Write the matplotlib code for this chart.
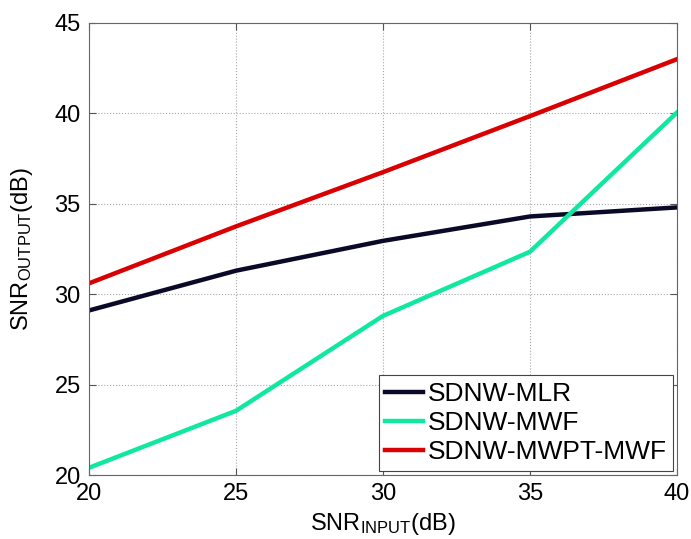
import matplotlib
matplotlib.use("Agg")
import matplotlib.pyplot as plt

plt.rcParams['font.family'] = ['Liberation Sans', 'DejaVu Sans']
plt.rcParams['mathtext.fontset'] = 'custom'
plt.rcParams['mathtext.rm'] = 'Liberation Sans'
plt.rcParams['mathtext.it'] = 'Liberation Sans'

snr_input = [20, 25, 30, 35, 40]
mlr = [29.1, 31.3, 32.95, 34.3, 34.8]
mwf = [20.4, 23.55, 28.8, 32.35, 40.05]
mwpt_mwf = [30.6, 33.75, 36.75, 39.85, 43.0]
labels = ['SDNW-MLR', 'SDNW-MWF', 'SDNW-MWPT-MWF']
colors = ['#0a0a28', '#10e8a0', '#d80000']

fig = plt.figure(figsize=(6.91, 5.39), dpi=100)
ax = fig.add_axes([89/691, 1 - 475/539, (677-89)/691, (475-23)/539])

for y, lab, c in zip([mlr, mwf, mwpt_mwf], labels, colors):
    ax.plot(snr_input, y, color=c, lw=3.2, label=lab)

ax.set_xlim(20, 40)
ax.set_ylim(20, 45)
ax.set_xticks([20, 25, 30, 35, 40])
ax.set_yticks([20, 25, 30, 35, 40, 45])
ax.grid(True, linestyle=':', color='#a8a8a8', lw=0.8)
ax.tick_params(direction='in', top=True, right=True, labelsize=17, length=5,
               color='#555555', pad=6)
for s in ax.spines.values():
    s.set_color('#666666')
ax.set_xlabel(r'SNR$_{\mathrm{INPUT}}$(dB)', fontsize=17, labelpad=4)
ax.set_ylabel(r'SNR$_{\mathrm{OUTPUT}}$(dB)', fontsize=17, labelpad=14)
leg = ax.legend(loc='lower right', fontsize=19, fancybox=False, edgecolor='#444444',
                framealpha=1, handlelength=1.45, handletextpad=0.15, borderpad=0.25,
                labelspacing=0.2, borderaxespad=0.15)
leg.get_frame().set_linewidth(0.8)

fig.savefig('out.png', dpi=100)
